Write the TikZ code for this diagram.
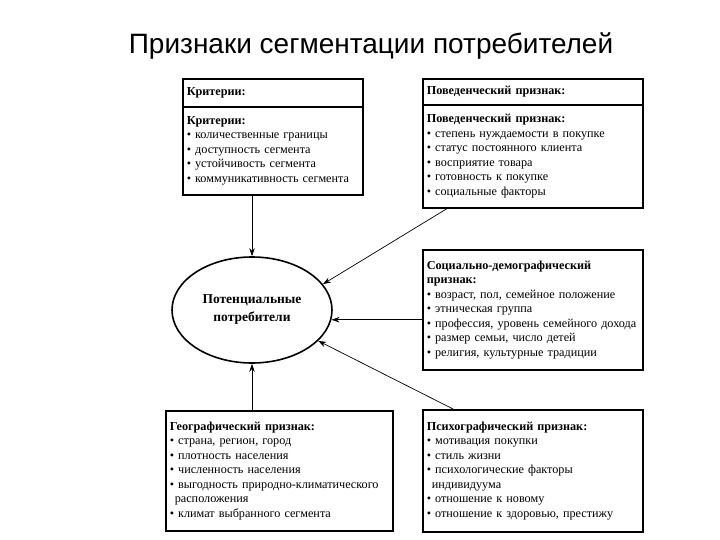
\documentclass[tikz,border=0pt]{standalone}
\usepackage{fontspec}
\setmainfont{Liberation Serif}
\newfontfamily\titlefont{Liberation Sans}
\usetikzlibrary{arrows.meta,positioning,calc,shapes.geometric}
\tikzset{
  segbox/.style={draw,line width=1.6pt,anchor=north west,inner xsep=4pt,inner ysep=2pt,
    align=left,font=\fontsize{12.2}{14.5}\selectfont},
  headbox/.style={segbox,font=\fontsize{12.2}{14.5}\selectfont\bfseries},
  feed/.style={line width=0.7pt,-{Stealth[length=8pt,width=5.5pt]}}
}
\begin{document}
\begin{tikzpicture}[x=1pt,y=-1pt]
    \useasboundingbox (0,0) rectangle (720,540);
    \node[font=\titlefont\fontsize{28}{32}\selectfont] (title) at (371,46) {Признаки сегментации потребителей};
    \node[headbox,minimum width=180pt,minimum height=28pt,text width=172pt] (crithead) at (182,78) {Критерии:};
    \node[segbox,minimum width=180pt,minimum height=88pt,text width=172pt] (crit) at (182,106)
      {\textbf{Критерии:}\\ • количественные границы\\ • доступность сегмента\\ • устойчивость сегмента\\ • коммуникативность сегмента};
    \node[headbox,minimum width=220pt,minimum height=26pt,text width=212pt] (behhead) at (422,78) {Поведенческий признак:};
    \node[segbox,minimum width=220pt,minimum height=103pt,text width=212pt] (beh) at (422,104)
      {\textbf{Поведенческий признак:}\\ • степень нуждаемости в покупке\\ • статус постоянного клиента\\ • восприятие товара\\ • готовность к покупке\\ • социальные факторы};
    \node[segbox,minimum width=220pt,minimum height=120pt,text width=212pt] (soc) at (422,249)
      {\textbf{Социально-демографический}\\ \textbf{признак:}\\ • возраст, пол, семейное положение\\ • этническая группа\\ • профессия, уровень семейного дохода\\ • размер семьи, число детей\\ • религия, культурные традиции};
    \node[segbox,minimum width=227pt,minimum height=120pt,text width=219pt] (geo) at (165,410)
      {\textbf{Географический признак:}\\ • страна, регион, город\\ • плотность населения\\ • численность населения\\ • выгодность природно-климатического\\ \hspace*{5pt}расположения\\ • климат выбранного сегмента};
    \node[segbox,minimum width=220pt,minimum height=122pt,text width=212pt] (psy) at (422,409)
      {\textbf{Психографический признак:}\\ • мотивация покупки\\ • стиль жизни\\ • психологические факторы\\ \hspace*{5pt}индивидуума\\ • отношение к новому\\ • отношение к здоровью, престижу};
    \node[ellipse,draw,line width=1.6pt,minimum width=160pt,minimum height=106pt,align=center,
      font=\fontsize{13.5}{18}\selectfont\bfseries] (cons) at (252,310) {Потенциальные\\ потребители};
    \draw[feed] (crit.south -| cons.north) -- (cons.north);
    \draw[feed] ([xshift=25pt]beh.south west) -- (cons.20);
    \draw[feed] (soc.west |- cons.-7) -- (cons.-7);
    \draw[feed] ([xshift=31pt]psy.north west) -- (cons.-25);
    \draw[feed] (geo.north -| cons.south) -- (cons.south);
\end{tikzpicture}
\end{document}
